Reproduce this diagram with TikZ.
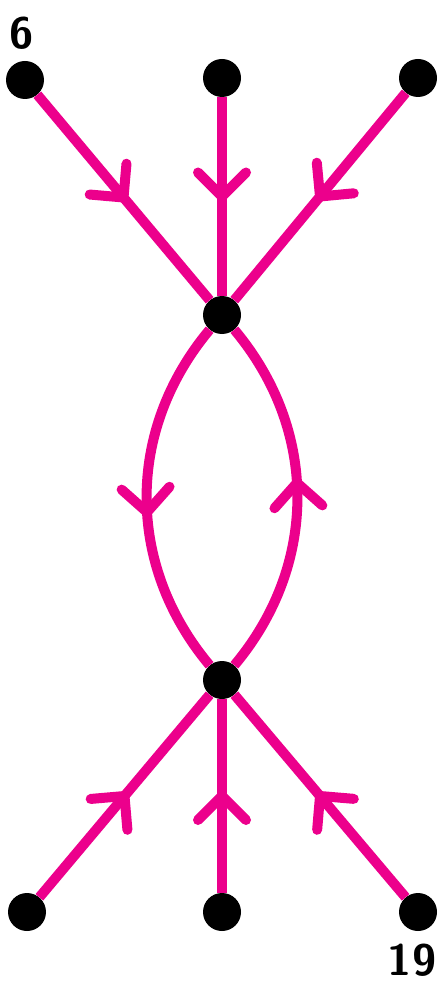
\documentclass[tikz,border=0pt]{standalone}
\usetikzlibrary{decorations.markings}
\definecolor{edgepink}{RGB}{236,0,140}
\tikzset{
  dot/.style={circle, fill=black, minimum size=38pt, inner sep=0pt},
  lbl/.style={font=\sffamily\bfseries\fontsize{44}{44}\selectfont, inner sep=0pt},
  wire/.style={draw=edgepink, line width=10pt, postaction={decorate},
    decoration={markings, mark=at position #1 with {\draw[edgepink, line width=10pt, line cap=round, line join=round] (-24pt,24pt) -- (0,0) -- (-24pt,-24pt);}}},
  wire/.default=0.5
}
\begin{document}
\begin{tikzpicture}[x=1pt, y=1pt]
        \useasboundingbox (0,0) rectangle (437,-984);
        % Vertices:
        \node[dot] (tl) at (25, -80){};
        \node[dot] (tm) at (222, -78){};
        \node[dot] (tr) at (418, -78){};
        \node[dot] (ht) at (222, -315){};
        \node[dot] (hb) at (222, -680){};
        \node[dot] (bl) at (27, -912){};
        \node[dot] (bm) at (222, -912){};
        \node[dot] (br) at (418, -912){};
        \node[lbl] (six) at (22, -33){6};
        \node[lbl] (nineteen) at (412, -960){19};
        % Edges:
        \draw[wire] (tl) -- (ht);
        \draw[wire] (tm) -- (ht);
        \draw[wire] (tr) -- (ht);
        \draw[wire=0.54] (ht) to[bend right=40] (hb);
        \draw[wire=0.54] (hb) to[bend right=40] (ht);
        \draw[wire] (bl) -- (hb);
        \draw[wire] (bm) -- (hb);
        \draw[wire] (br) -- (hb);
    \end{tikzpicture}
\end{document}
